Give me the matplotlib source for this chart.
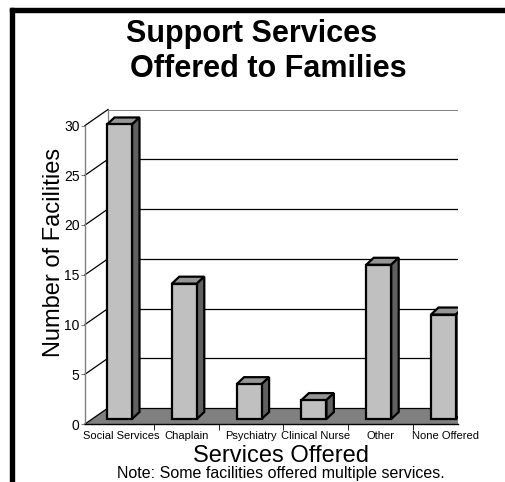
import numpy as np
import matplotlib.pyplot as plt
from matplotlib.patches import Polygon, Rectangle

categories = ['Social Services', 'Chaplain', 'Psychiatry', 'Clinical Nurse', 'Other', 'None Offered']
facilities = [29.6, 13.6, 3.5, 1.9, 15.5, 10.5]
y_ticks = [0, 5, 10, 15, 20, 25, 30]

W, H = 506, 482
plt.rcParams['font.family'] = ['Liberation Sans', 'DejaVu Sans']


def fx(px):
    return px / W


def fy(py):
    return 1 - py / H


def main():
    fig = plt.figure(figsize=(W / 100, H / 100), dpi=100)
    fig.patch.set_facecolor('white')

    # axes box in pixels (right side is cut off like the original)
    ax_l, ax_r, ax_t, ax_b = 85, 458, 110, 424
    ax = fig.add_axes([fx(ax_l), fy(ax_b), (ax_r - ax_l) / W, (ax_b - ax_t) / H])

    px_x = 64.8   # pixels per category
    px_y = 9.95   # pixels per unit
    x0 = 121.5    # pixel centre of first category
    xl = (ax_l - x0) / px_x
    xr = (ax_r - x0) / px_x
    ax.set_xlim(xl, xr)
    ax.set_ylim(0, (ax_b - ax_t) / px_y)

    # depth of the 3-D box
    dx = 23 / px_x
    dy = 16 / px_y

    # floor
    ax.add_patch(Polygon([(xl, 0), (xl + dx, dy), (xr + 1, dy), (xr + 1, 0)],
                         closed=True, fc='#808080', ec='none', zorder=1))
    # back wall grid + side wall diagonals
    for v in y_ticks:
        c = '#808080' if v == y_ticks[-1] else 'black'
        lw = 1.4 if v == y_ticks[-1] else 0.9
        ax.plot([xl + dx, xr + 1], [v + dy, v + dy], color=c, lw=lw, zorder=2)
        ax.plot([xl, xl + dx], [v, v + dy], color='black', lw=0.9, zorder=2,
                clip_on=False)
    ax.plot([xl + dx, xl + dx], [dy, y_ticks[-1] + dy], color='#808080', lw=0.9, zorder=2)
    ax.plot([xl, xl], [0, y_ticks[-1]], color='#808080', lw=1.0, zorder=2, clip_on=False)

    # bars with pseudo 3-D faces
    xs = np.arange(len(categories))
    bw = 25 / px_x
    shift = -2 / px_x
    base = 5 / px_y
    ddx = 7.5 / px_x
    ddy = 7 / px_y
    ax.bar(xs + shift, facilities, width=bw, bottom=base, color='#c0c0c0',
           edgecolor='black', linewidth=1.6, zorder=4)
    for x, v in zip(xs + shift, facilities):
        L, R, T = x - bw / 2, x + bw / 2, base + v
        top = Polygon([(L, T), (L + ddx, T + ddy), (R + ddx, T + ddy), (R, T)],
                      closed=True, fc='#969696', ec='black', lw=1.6, zorder=3,
                      joinstyle='miter')
        side = Polygon([(R, base), (R + ddx, base + ddy), (R + ddx, T + ddy), (R, T)],
                       closed=True, fc='#606060', ec='black', lw=1.6, zorder=3,
                       joinstyle='miter')
        ax.add_patch(top)
        ax.add_patch(side)

    # axes styling
    for s in ['top', 'right', 'left']:
        ax.spines[s].set_visible(False)
    ax.spines['bottom'].set_color('black')
    ax.spines['bottom'].set_linewidth(1.0)
    ax.set_facecolor('none')

    ax.set_yticks(y_ticks)
    ax.tick_params(axis='y', length=3, color='#808080', pad=1, labelsize=10)
    ax.set_xticks(xs)
    ax.set_xticklabels(categories)
    ax.set_xticks(np.arange(1, len(categories)) - 0.5, minor=True)
    ax.tick_params(axis='x', which='major', length=0, pad=5, labelsize=8)
    ax.tick_params(axis='x', which='minor', length=4, color='black')

    # texts
    fig.text(fx(252), fy(42), 'Support Services', ha='center', va='baseline',
             fontsize=22, fontweight='bold')
    fig.text(fx(268), fy(77), 'Offered to Families', ha='center', va='baseline',
             fontsize=22, fontweight='bold')
    fig.text(fx(60), fy(252), 'Number of Facilities', rotation=90,
             rotation_mode='anchor', ha='center', va='baseline', fontsize=17)
    fig.text(fx(281), fy(462), 'Services Offered', ha='center', va='baseline',
             fontsize=17)
    fig.text(fx(281), fy(478), 'Note: Some facilities offered multiple services.',
             ha='center', va='baseline', fontsize=11.5)

    # thick frame on top and left
    fig.add_artist(Rectangle((fx(10), fy(12)), (W - 10) / W, 4 / H,
                             transform=fig.transFigure, color='black'))
    fig.add_artist(Rectangle((fx(10), 0), 4 / W, fy(8),
                             transform=fig.transFigure, color='black'))

    fig.savefig('out.png', dpi=100)


if __name__ == "__main__":
    main()
